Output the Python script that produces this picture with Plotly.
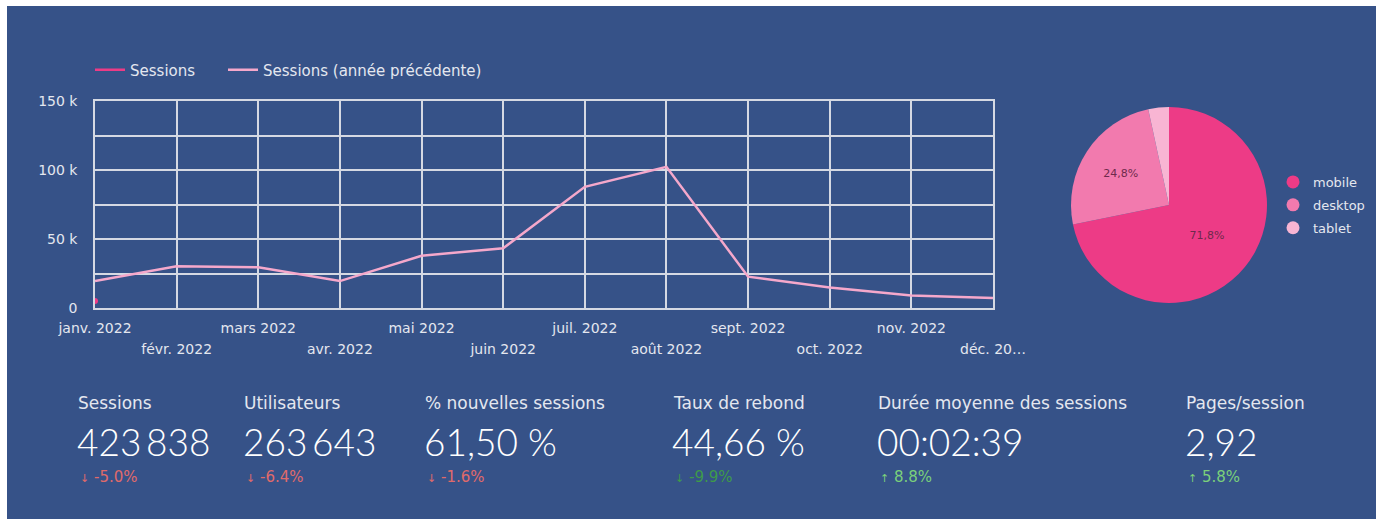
import plotly.graph_objects as go

# ---------------- data ----------------
months = ["janv. 2022", "févr. 2022", "mars 2022", "avr. 2022", "mai 2022", "juin 2022",
          "juil. 2022", "août 2022", "sept. 2022", "oct. 2022", "nov. 2022", "déc. 20…"]
sessions = [5000]
sessions_prev = [19500, 30300, 29500, 19500, 37900, 43300, 87800, 102300, 22700, 14800, 9000, 7200]

devices = ["mobile", "desktop", "tablet"]
device_share = [71.8, 24.8, 3.4]

kpi_titles = ["Sessions", "Utilisateurs", "% nouvelles sessions", "Taux de rebond",
              "Durée moyenne des sessions", "Pages/session"]
kpi_values = ["423\u2009838", "263\u2009643", "61,50 %", "44,66 %", "00:02:39", "2,92"]
kpi_deltas = ["-5.0%", "-6.4%", "-1.6%", "-9.9%", "8.8%", "5.8%"]
kpi_arrows = ["↓", "↓", "↓", "↓", "↑", "↑"]

yticks = [0, 25000, 50000, 75000, 100000, 125000, 150000]
yticklabels = ["0", "", "50 k", "", "100 k", "", "150 k"]

# ---------------- styling ----------------
W, H = 1376, 519
ML, MR, MT, MB = 95, 0, 101, 211
PW, PH = W - ML - MR, H - MT - MB
BG = "#365288"
GRID = "#d5d9e3"
TXT = "#e4e7ef"
FONT = "DejaVu Sans"
VFONT = "Lato"
C_MOBILE, C_DESK, C_TAB = "#ED3B86", "#F27AAE", "#F8B5D3"
C_SESS, C_PREV = "#ED3B86", "#F5A8CB"
kpi_x = [78, 244, 425, 673, 878, 1186]
kpi_delta_colors = ["#E06A6A", "#E06A6A", "#E06A6A", "#3E9A4A", "#7BD07B", "#7BD07B"]


def px(x):
    return (x - ML) / PW


def py(y):
    return (MT + PH - y) / PH


fig = go.Figure()
xs = list(range(len(months)))

fig.add_trace(go.Scatter(x=xs[:len(sessions)], y=sessions, mode="lines", name="Sessions",
                         line=dict(color=C_SESS, width=2.5), legend="legend"))
fig.add_trace(go.Scatter(x=xs, y=sessions_prev, mode="lines", name="Sessions (année précédente)",
                         line=dict(color=C_PREV, width=2.5), legend="legend3"))
fig.add_trace(go.Scatter(x=xs[:len(sessions)], y=sessions, mode="markers", showlegend=False,
                         marker=dict(color=C_SESS, size=6)))

fig.add_trace(go.Pie(labels=devices, values=device_share, sort=False, direction="clockwise",
                     rotation=0, showlegend=False,
                     marker=dict(colors=[C_MOBILE, C_DESK, C_TAB], line=dict(width=0)),
                     texttemplate=["%{percent:.1%}", "%{percent:.1%}", ""],
                     textposition="inside", insidetextfont=dict(color="#6E2A4C", size=11, family=FONT),
                     domain=dict(x=[px(1071), px(1267)], y=[py(303), py(107)]),
                     hoverinfo="label+percent"))

# legend entries for the pie (circle markers); placed on the second x axis
for d, c in zip(devices, [C_MOBILE, C_DESK, C_TAB]):
    fig.add_trace(go.Scatter(x=[None], y=[None], mode="markers", name=d, xaxis="x2",
                             legendgroup=d,
                             marker=dict(color=c, size=13, symbol="circle"), legend="legend2"))

even_idx = [i for i in xs if i % 2 == 0]
odd_idx = [i for i in xs if i % 2 == 1]

axis_common = dict(range=[0, 11], zeroline=False, ticks="", tickangle=0,
                   tickfont=dict(color=TXT, size=14, family=FONT))

fig.update_layout(
    xaxis=dict(domain=[0, (993 - ML) / PW], tickvals=xs,
               ticktext=[months[i] if i % 2 == 0 else "" for i in xs],
               showgrid=True, gridcolor=GRID, gridwidth=1.5,
               showline=True, linecolor=GRID, linewidth=1.5, mirror=True,
               ticklabelstandoff=6, **axis_common),
    xaxis2=dict(domain=[0, (993 - ML) / PW], overlaying="x", anchor="y", side="bottom",
                tickvals=odd_idx, ticktext=[months[i] for i in odd_idx],
                showgrid=False, showline=False, ticklabelstandoff=31, **axis_common),
    yaxis=dict(range=[0, 150000], tickvals=yticks, ticktext=yticklabels,
               showgrid=True, gridcolor=GRID, gridwidth=1.5, zeroline=False,
               showline=True, linecolor=GRID, linewidth=1.5, mirror=True,
               ticks="", tickfont=dict(color=TXT, size=14, family=FONT),
               ticklabelstandoff=13),
)

ann = []
for i in range(len(kpi_titles)):
    ann.append(dict(x=px(kpi_x[i] - 2), y=py(403), xref="paper", yref="paper", xanchor="left",
                    yanchor="middle", showarrow=False, text=kpi_titles[i],
                    font=dict(color=TXT, size=17, family=FONT)))
    ann.append(dict(x=px(kpi_x[i] - 3), y=py(441), xref="paper", yref="paper", xanchor="left",
                    yanchor="middle", showarrow=False, text=kpi_values[i],
                    font=dict(color="#ffffff", size=37, family=VFONT, weight=300)))
    ann.append(dict(x=px(kpi_x[i]), y=py(477), xref="paper", yref="paper", xanchor="left",
                    yanchor="middle", showarrow=False,
                    text="<span style='font-size:11px'>" + kpi_arrows[i] + "</span> " + kpi_deltas[i],
                    font=dict(color=kpi_delta_colors[i], size=15, family=FONT)))

legend_common = dict(orientation="h", xref="container", yref="container", xanchor="left",
                     yanchor="middle", font=dict(color=TXT, size=15, family=FONT),
                     bgcolor="rgba(0,0,0,0)")

fig.update_layout(
    width=W, height=H, autosize=False,
    margin=dict(l=ML, r=MR, t=MT, b=MB, pad=0, autoexpand=False),
    paper_bgcolor="#ffffff", plot_bgcolor=BG,
    font=dict(family=FONT, color=TXT),
    separators=", ",
    shapes=[dict(type="rect", xref="paper", yref="paper", layer="below",
                 x0=px(7), x1=px(W + 5), y0=py(H + 5), y1=py(6),
                 fillcolor=BG, line=dict(width=0))],
    legend=dict(x=90 / W, y=1 - 70 / H, **legend_common),
    legend3=dict(x=223 / W, y=1 - 70 / H, **legend_common),
    legend2=dict(orientation="v", xref="container", yref="container",
                 x=1273 / W, y=1 - 205 / H, xanchor="left", yanchor="middle",
                 font=dict(color=TXT, size=13, family=FONT), bgcolor="rgba(0,0,0,0)",
                 itemwidth=30, tracegroupgap=3),
    annotations=ann,
)

fig.write_html("out.html",
               config={"displayModeBar": False, "responsive": False},
               post_script="document.body.style.margin='0';document.body.style.overflow='hidden';")
